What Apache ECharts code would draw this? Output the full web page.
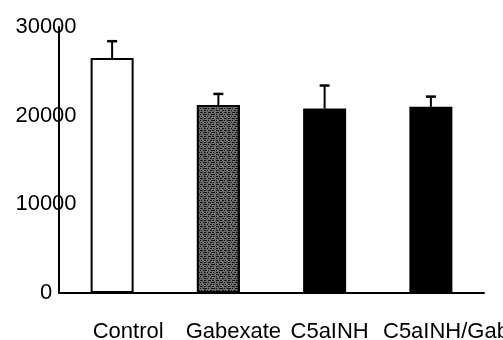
<!DOCTYPE html>
<html>
<head>
<meta charset="utf-8">
<script src="https://cdn.jsdelivr.net/npm/echarts@6/dist/echarts.min.js"></script>
<style>html,body{margin:0;padding:0;background:#fff}#c{width:503px;height:340px}</style>
</head>
<body>
<div id="c"></div>
<script>
var categories = ['Control', 'Gabexate', 'C5aINH', 'C5aINH/Gabexate'];
var values = [26500, 21200, 20800, 21000];
var errors = [1900, 1250, 2600, 1150];
var yTicks = [0, 10000, 20000, 30000];

var labelPad = [[0,0,0,32],[0,0,0,30],[0,0,0,10],[0,0,0,84]];
var FONT = '"Liberation Sans", Arial, sans-serif';

var chart = echarts.init(document.getElementById('c'), null, {renderer: 'canvas'});

var rich = {};
labelPad.forEach(function (p, i) {
  rich['p' + i] = {padding: p, fontSize: 22, fontFamily: FONT, color: '#000'};
});

var barData = values.map(function (v, i) {
  var item = {value: v, itemStyle: {borderColor: '#000', borderWidth: 2}};
  if (i === 0) item.itemStyle.color = '#ffffff';
  else if (i === 1) {
    item.itemStyle.color = '#6a6a6a';
    item.itemStyle.decal = {
      symbol: 'rect', symbolSize: 1, color: '#141414',
      dashArrayX: [[3, 1, 2, 2], [1, 2, 4, 1], [2, 1, 1, 2]],
      dashArrayY: [1, 0.5], rotation: 0
    };
  } else item.itemStyle.color = '#000000';
  return item;
});

var errData = values.map(function (v, i) { return [i, v, errors[i]]; });

chart.setOption({
  animation: false,
  backgroundColor: '#fff',
  aria: {enabled: false},
  grid: {left: 59, right: 19, top: 27, bottom: 47, containLabel: false, outerBoundsMode: 'none'},
  xAxis: {
    type: 'category',
    data: categories,
    axisLine: {show: true, lineStyle: {color: '#000', width: 2}},
    axisTick: {show: false},
    axisLabel: {
      interval: 0, margin: 28, color: '#000', fontSize: 22, fontFamily: FONT,
      lineHeight: 22, hideOverlap: false,
      formatter: function (v, i) { return '{p' + i + '|' + v + '}'; },
      rich: rich
    },
    splitLine: {show: false}
  },
  yAxis: {
    type: 'value',
    min: yTicks[0], max: yTicks[yTicks.length - 1], interval: yTicks[1] - yTicks[0],
    axisLine: {show: true, lineStyle: {color: '#000', width: 2}},
    axisTick: {show: false},
    splitLine: {show: false},
    axisLabel: {
      margin: 13, align: 'center', color: '#000', fontSize: 22, fontFamily: FONT,
      formatter: function (v) { return String(v); }
    }
  },
  series: [
    {
      type: 'bar',
      data: barData,
      barWidth: 43,
      z: 2
    },
    {
      type: 'custom',
      data: errData,
      z: 3,
      renderItem: function (params, api) {
        var i = api.value(0), v = api.value(1), e = api.value(2);
        var base = api.coord([i, v]);
        var top = api.coord([i, v + e]);
        var half = 5;
        return {
          type: 'group',
          children: [
            {type: 'line', shape: {x1: base[0], y1: base[1], x2: top[0], y2: top[1]}, style: {stroke: '#000', lineWidth: 2}},
            {type: 'line', shape: {x1: top[0] - half, y1: top[1], x2: top[0] + half, y2: top[1]}, style: {stroke: '#000', lineWidth: 2.5}}
          ]
        };
      }
    }
  ]
});
</script>
</body>
</html>
